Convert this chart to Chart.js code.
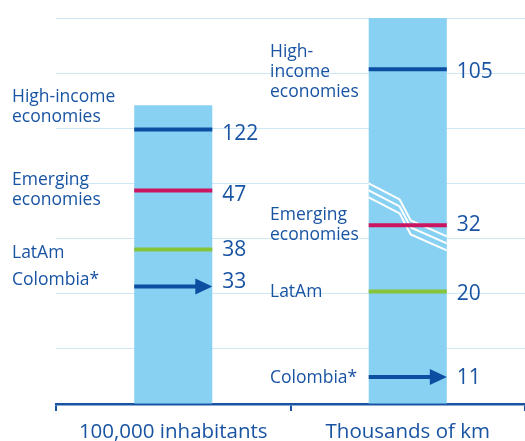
<!DOCTYPE html>
<html>
<head>
<meta charset="utf-8">
<script src="https://cdn.jsdelivr.net/npm/chart.js@4.4.1/dist/chart.umd.min.js"></script>
<style>
  html, body { margin: 0; padding: 0; background: #fff; }
  #wrap { width: 525px; height: 441px; }
</style>
</head>
<body>
<div id="wrap"><canvas id="chart" width="525" height="441"></canvas></div>
<script>
const categories = ['100,000 inhabitants', 'Thousands of km'];
// the original axis is schematic (and broken on the right), so bars and markers
// sit on "levels" of a 0-7 scale while the real figures are printed as labels
const barTops = [5.42, 7];

const leftNames  = [['High-income', 'economies'], ['Emerging', 'economies'], ['LatAm'], ['Colombia*']];
const leftValues = [122, 47, 38, 33];
const leftLevels = [4.98, 3.87, 2.8, 2.13];

const rightNames  = [['High-', 'income', 'economies'], ['Emerging', 'economies'], ['LatAm'], ['Colombia*']];
const rightValues = [105, 32, 20, 11];
const rightLevels = [6.07, 3.24, 2.04, 0.49];

const markerColors = ['#0b4ea2', '#cc1560', '#86c43a', '#0b4ea2'];
const textColor = '#1954a3';

const panels = [
  { names: leftNames,  values: leftValues,  levels: leftLevels,  labelX: 12,  labelDy: [-22, -1, 3, -7], valueDy: [5, 4, 0, -5] },
  { names: rightNames, values: rightValues, levels: rightLevels, labelX: 270, labelDy: [3, 0, 1, 1],     valueDy: [3, 0, 3, 1], broken: true },
];

const el = (id) => document.getElementById(id);

const drawBreak = (ctx, y, x0, x1) => {
  const top = y.getPixelForValue(4);
  ctx.save();
  ctx.strokeStyle = '#fff';
  ctx.lineWidth = 2;
  [0, 7, 14].forEach(off => {
    const s = top + off;
    ctx.beginPath();
    ctx.moveTo(x0, s);
    ctx.lineTo(x0 + 31, s + 16);
    ctx.lineTo(x0 + 42, s + 37);
    ctx.lineTo(x1, s + 53);
    ctx.stroke();
  });
  ctx.restore();
};

const markers = {
  id: 'markers',
  afterDatasetsDraw(chart) {
    const { ctx, scales: { y } } = chart;
    const bars = chart.getDatasetMeta(0).data;
    panels.forEach((p, i) => {
      const bar = bars[i];
      const x0 = bar.x - bar.width / 2, x1 = bar.x + bar.width / 2;
      if (p.broken) drawBreak(ctx, y, x0, x1);

      p.values.forEach((v, j) => {
        const py = y.getPixelForValue(p.levels[j]);
        const last = j === p.values.length - 1;
        ctx.save();
        ctx.strokeStyle = markerColors[j];
        ctx.fillStyle = markerColors[j];
        ctx.lineWidth = 4;
        ctx.beginPath();
        ctx.moveTo(x0, py);
        ctx.lineTo(last ? x1 - 12 : x1, py);
        ctx.stroke();
        if (last) {
          ctx.beginPath();
          ctx.moveTo(x1 - 17, py - 8);
          ctx.lineTo(x1, py);
          ctx.lineTo(x1 - 17, py + 8);
          ctx.closePath();
          ctx.fill();
        }

        ctx.fillStyle = textColor;
        ctx.textBaseline = 'middle';
        ctx.textAlign = 'left';
        ctx.font = "21px 'Open Sans', sans-serif";
        ctx.fillText(String(v), x1 + 10, py + p.valueDy[j]);

        ctx.font = "17.5px 'Open Sans', sans-serif";
        const lines = p.names[j];
        const lh = 20;
        const start = py + p.labelDy[j] - (lines.length - 1) * lh / 2;
        lines.forEach((t, k) => ctx.fillText(t, p.labelX, start + k * lh));
        ctx.restore();
      });
    });
  }
};

Chart.defaults.font.family = "'Open Sans', sans-serif";

new Chart(el('chart'), {
  type: 'bar',
  data: {
    labels: categories,
    datasets: [{
      data: barTops,
      backgroundColor: '#89d1f2',
      barPercentage: 1,
      categoryPercentage: 0.333,
    }]
  },
  options: {
    responsive: false,
    animation: false,
    layout: { padding: { top: 18, left: 56, right: 0, bottom: 0 } },
    plugins: { legend: { display: false }, tooltip: { enabled: false } },
    scales: {
      x: {
        offset: true,
        afterFit: (scale) => { scale.height = 37; },
        grid: { offset: true, drawOnChartArea: false, tickLength: 7, color: textColor, lineWidth: 2 },
        border: { color: textColor, width: 2.5 },
        ticks: { color: textColor, font: { size: 20.5, lineHeight: 1 }, padding: 11, maxRotation: 0 }
      },
      y: {
        min: 0, max: 7,
        ticks: { display: false, stepSize: 1 },
        grid: { color: '#cfe8f6', drawTicks: false, lineWidth: 1 },
        border: { display: false }
      }
    }
  },
  plugins: [markers]
});
</script>
</body>
</html>
